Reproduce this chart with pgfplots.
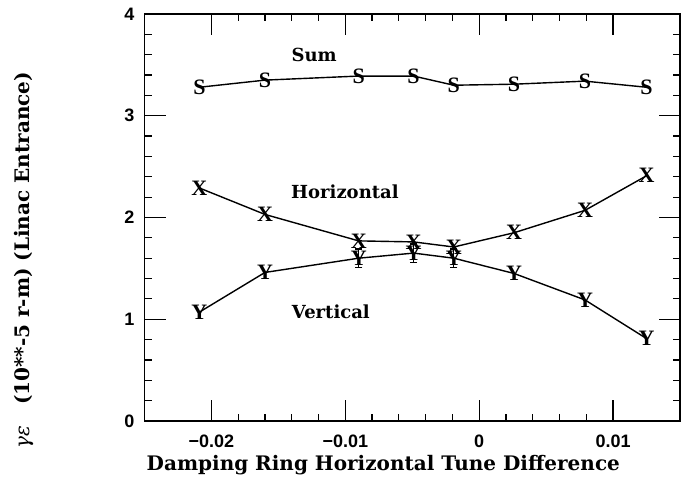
\documentclass[border=0pt]{standalone}
\usepackage{fontspec}
\usepackage{pgfplots}
\usepackage{pgfplotstable}
\pgfplotsset{compat=1.18}

\setmainfont{Liberation Serif}
\newfontfamily\labfam{DejaVu Serif}
\newfontfamily\tickfam{Liberation Sans}
\newcommand\labfont{\labfam\bfseries\fontsize{10}{12}\selectfont}
\newcommand\notefont{\labfam\bfseries\fontsize{9}{11}\selectfont}
\newcommand\tickfont{\tickfam\bfseries\fontsize{9}{11}\selectfont}
\newcommand\markfont{\rmfamily\bfseries\fontsize{11}{11}\selectfont}

% emittance vs. tune difference: sum, horizontal, vertical
\pgfplotstableread{
x        sum   hor   ver
-0.0209  3.28  2.29  1.07
-0.0160  3.35  2.03  1.46
-0.0090  3.39  1.77  1.60
-0.0049  3.39  1.76  1.65
-0.0019  3.30  1.71  1.60
 0.0026  3.31  1.85  1.45
 0.0079  3.34  2.07  1.19
 0.0125  3.28  2.41  0.81
}\emittable

\begin{document}
\begin{tikzpicture}
\begin{axis}[
  name=ax,
  scale only axis,
  width=267.75pt, height=203.5pt,
  xmin=-0.025, xmax=0.015, ymin=0, ymax=4,
  scaled x ticks=false,
  xtick={-0.02,-0.01,0,0.01},
  xticklabels={−0.02,−0.01,0,0.01},
  ytick={0,1,2,3,4},
  yticklabels={0,1,2,3,4},
  minor x tick num=4,
  minor y tick num=4,
  tick align=inside,
  major tick length=10.5pt,
  minor tick length=3.5pt,
  tick style={black, line width=0.6pt},
  axis line style={line width=0.8pt},
  ticklabel style={font=\tickfont},
  xticklabel style={yshift=-6pt, inner sep=1pt},
  yticklabel style={xshift=-1.5pt},
  xlabel={Damping Ring Horizontal Tune Difference},
  xlabel style={font=\labfont, inner sep=1pt, at={(axis description cs:0.446,-0.108)}, anchor=center},
  ylabel={{\mdseries\itshape γε}\ \ \ (10**-5 r-m) (Linac Entrance)},
  ylabel style={font=\labfont, at={(axis description cs:-0.225,0.395)}, anchor=center},
  every axis plot/.append style={black, line width=0.7pt},
]
\addplot[mark=text, text mark={\markfont S}]
  table[x=x, y=sum]{\emittable};
\addplot[mark=text, text mark={\markfont X}]
  table[x=x, y=hor]{\emittable};
\addplot[mark=text, text mark={\markfont Y}]
  table[x=x, y=ver]{\emittable};
% error bars on the vertical points near the crossing
\addplot[draw=none, mark=none,
  error bars/.cd, y dir=both, y explicit,
  error bar style={draw=black, line width=0.7pt},
  error mark options={draw=black, rotate=90, mark size=1.8pt, line width=0.7pt}]
  coordinates {
    (-0.0090,1.60) +- (0,0.09)
    (-0.0049,1.65) +- (0,0.09)
    (-0.0019,1.60) +- (0,0.09)
  };

\node[font=\notefont] at (axis cs:-0.01233,3.60) {Sum};
\node[font=\notefont] at (axis cs:-0.01003,2.255) {Horizontal};
\node[font=\notefont] at (axis cs:-0.01108,1.07) {Vertical};
\end{axis}
\pgfresetboundingbox
\path[use as bounding box]
  ([xshift=-72.25pt,yshift=-28.5pt]ax.south west)
  rectangle ([xshift=4.5pt,yshift=7pt]ax.north east);
\end{tikzpicture}
\end{document}
